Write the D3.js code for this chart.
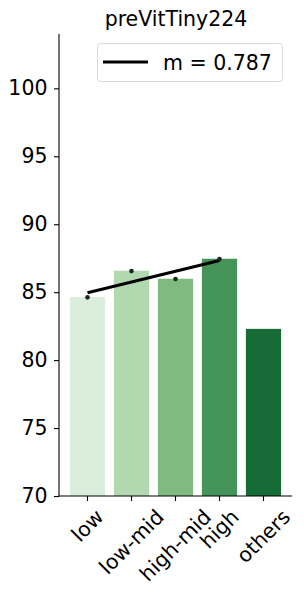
<!DOCTYPE html>
<html>
  <head>
    <meta charset="utf-8">
    <script src="https://d3js.org/d3.v7.min.js"></script>
    <style>
    body { margin: 0; background-color: #fff; }
    svg { display: block; font-family: "DejaVu Sans", sans-serif; }
    </style>
  </head>
  <body>
    <script>
      // data
      const categories = ['low', 'low-mid', 'high-mid', 'high', 'others']
      const barValues = [84.64, 86.58, 85.99, 87.46, 82.3]
      const dotValues = [84.62, 86.55, 85.97, 87.44]
      const yTicks = [70, 75, 80, 85, 90, 95, 100]
      const barColors = ['#dbeddb', '#b1d8ae', '#7fbb81', '#45955a', '#176b37']
      const legendLabel = 'm = 0.787'
      const title = 'preVitTiny224'

      let w = 304
      let h = 595
      let fs = 20.5
      let svg = d3.select('body').append('svg')
                  .attr('width', w)
                  .attr('height', h)

      let pLeft = 59, pRight = 292, pTop = 34, pBottom = 496

      let xScale = d3.scaleBand()
                     .domain(categories)
                     .range([65.5, 285.5])
                     .paddingInner(0.2)
                     .paddingOuter(0.1)
      let yScale = d3.scaleLinear()
                     .domain([70, 104])
                     .range([pBottom, pTop])

      // bars
      svg.selectAll('rect.bar')
         .data(categories)
         .enter()
         .append('rect')
         .attr('class', 'bar')
         .attr('x', d => xScale(d))
         .attr('width', xScale.bandwidth())
         .attr('y', (d, i) => yScale(barValues[i]))
         .attr('height', (d, i) => pBottom - yScale(barValues[i]))
         .attr('fill', (d, i) => barColors[i])

      let cx = i => xScale(categories[i]) + xScale.bandwidth() / 2

      // least squares fit through the dots
      let n = dotValues.length
      let mx = d3.mean(dotValues, (d, i) => i)
      let my = d3.mean(dotValues)
      let slope = d3.sum(dotValues, (d, i) => (i - mx) * (d - my)) / d3.sum(dotValues, (d, i) => (i - mx) * (i - mx))
      let icpt = my - slope * mx
      let fit = [0, n - 1].map(i => ({ i: i, v: icpt + slope * i }))

      svg.append('path')
         .datum(fit)
         .attr('d', d3.line().x(d => cx(d.i)).y(d => yScale(d.v)))
         .attr('fill', 'none')
         .attr('stroke', '#000')
         .attr('stroke-width', 3)

      svg.selectAll('circle.dot')
         .data(dotValues)
         .enter()
         .append('circle')
         .attr('class', 'dot')
         .attr('cx', (d, i) => cx(i))
         .attr('cy', d => yScale(d))
         .attr('r', 2.3)
         .attr('fill', '#222')

      // axes
      let yAxis = svg.append('g')
                     .attr('transform', `translate(${pLeft}, 0)`)
                     .call(d3.axisLeft(yScale).tickValues(yTicks).tickSize(5).tickPadding(6.5))
      yAxis.select('.domain').remove()
      yAxis.selectAll('text').attr('font-size', fs).attr('fill', '#000').attr('font-family', 'DejaVu Sans')
      yAxis.selectAll('line').attr('stroke-width', 1.1)

      svg.append('line')
         .attr('x1', pLeft).attr('x2', pLeft)
         .attr('y1', pTop).attr('y2', pBottom + 0.5)
         .attr('stroke', '#000').attr('stroke-width', 1.1)
      svg.append('line')
         .attr('x1', pLeft).attr('x2', pRight)
         .attr('y1', pBottom).attr('y2', pBottom)
         .attr('stroke', '#000').attr('stroke-width', 1.1)

      let xg = svg.append('g')
      categories.forEach((c, i) => {
        let x = cx(i)
        xg.append('line')
          .attr('x1', x).attr('x2', x)
          .attr('y1', pBottom).attr('y2', pBottom + 5)
          .attr('stroke', '#000').attr('stroke-width', 1.1)
        let t = xg.append('text')
                  .text(c)
                  .attr('font-size', fs)
                  .attr('text-anchor', 'middle')
                  .attr('dominant-baseline', 'central')
        let L = t.node().getComputedTextLength()
        let th = fs * 1.0
        let bh = (L + th) * Math.SQRT1_2
        let y = pBottom + 10 + bh / 2
        t.attr('x', x).attr('y', y)
         .attr('transform', `rotate(-45, ${x}, ${y})`)
      })

      // title
      svg.append('text')
         .attr('x', 176)
         .attr('y', 26)
         .attr('text-anchor', 'middle')
         .attr('font-size', fs)
         .text(title)

      // legend
      let lg = svg.append('g')
      lg.append('rect')
        .attr('x', 97.5).attr('y', 43.5)
        .attr('width', 185).attr('height', 38)
        .attr('rx', 3)
        .attr('fill', '#fff')
        .attr('stroke', '#d9d9d9')
      lg.append('line')
        .attr('x1', 103).attr('x2', 148)
        .attr('y1', 62).attr('y2', 62)
        .attr('stroke', '#000').attr('stroke-width', 3)
      lg.append('text')
        .attr('x', 163)
        .attr('y', 69.5)
        .attr('font-size', fs)
        .text(legendLabel)
    </script>
  </body>
</html>
